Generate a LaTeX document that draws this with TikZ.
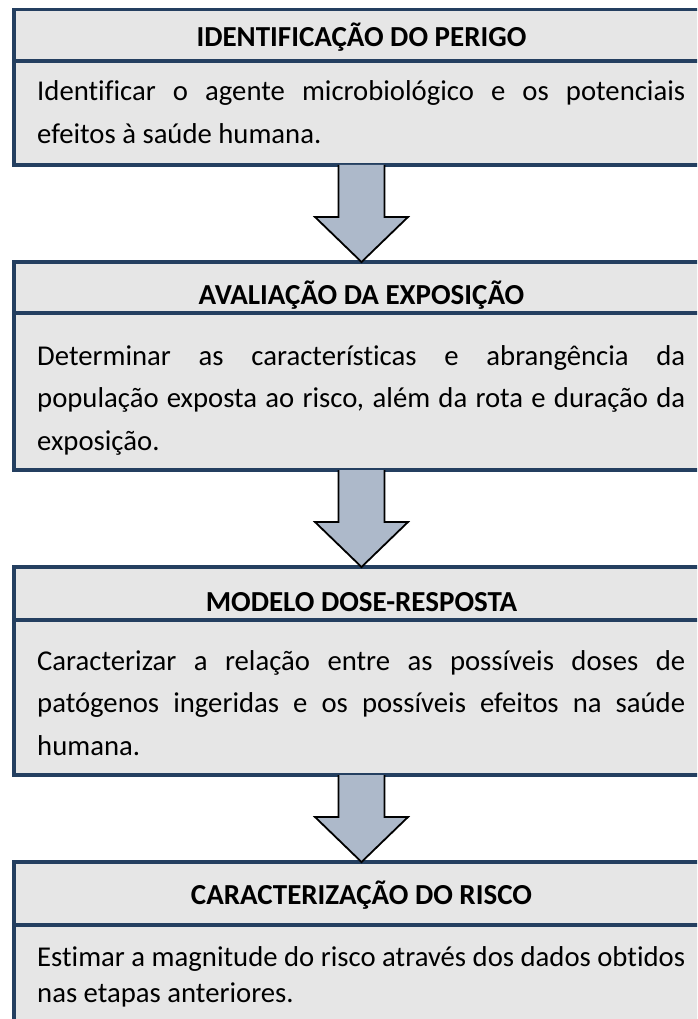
\documentclass[tikz,border=0pt]{standalone}
\usepackage{fontspec}
\setmainfont{Carlito}[Ligatures=NoCommon]
\usetikzlibrary{calc}
\definecolor{bord}{HTML}{243F60}
\definecolor{boxfill}{HTML}{E6E6E6}
\definecolor{arrfill}{HTML}{ADB9CA}
\tikzset{
  panel/.style={draw=bord, line width=3.4pt, fill=boxfill, rectangle, minimum width=695pt, inner sep=0pt, outer sep=0pt, anchor=north west},
  divider/.style={draw=bord, line width=3.4pt},
  head/.style={inner sep=0pt, anchor=base, font=\bfseries\fontsize{29}{34}\selectfont},
  body/.style={inner sep=0pt, anchor=base west, text width=648pt, align=justify, font=\fontsize{28.7}{42.5}\selectfont},
  bodytight/.style={body, font=\fontsize{28.7}{36}\selectfont},
  arrowfill/.style={fill=arrfill},
  arrowline/.style={draw=black, line width=1.8pt, line join=miter}
}
\newcommand{\blockarrow}[2]{%
  \fill[arrowfill] ($(#1)+(-23,0)$) -- ($(#2)+(-23,-45)$) -- ($(#2)+(-46.5,-45)$) -- (#2) -- ($(#2)+(46.5,-45)$) -- ($(#2)+(23,-45)$) -- ($(#1)+(23,0)$) -- cycle;
  \draw[arrowline] ($(#1)+(-23,0)$) -- ($(#2)+(-23,-45)$) -- ($(#2)+(-46.5,-45)$) -- (#2) -- ($(#2)+(46.5,-45)$) -- ($(#2)+(23,-45)$) -- ($(#1)+(23,0)$);
}
\begin{document}
\begin{tikzpicture}[x=1pt,y=-1pt]
\useasboundingbox (0,0) rectangle (697,1019);
\clip (0,0) rectangle (697,1019);
% boxes
\node[panel, minimum height=155.5pt] (b1) at (14,9.5) {};
\node[panel, minimum height=208pt] (b2) at (14,262) {};
\node[panel, minimum height=208pt] (b3) at (14,567) {};
\node[panel, minimum height=240pt] (b4) at (14,862) {};
% dividers
\draw[divider] ($(b1.north west)+(0,51.5)$) -- ($(b1.north east)+(0,51.5)$);
\draw[divider] ($(b2.north west)+(0,51)$) -- ($(b2.north east)+(0,51)$);
\draw[divider] ($(b3.north west)+(0,53)$) -- ($(b3.north east)+(0,53)$);
\draw[divider] ($(b4.north west)+(0,63)$) -- ($(b4.north east)+(0,63)$);
% headers
\node[head] (h1) at (361.5,47) {IDENTIFICAÇÃO DO PERIGO};
\node[head] (h2) at (361.5,304) {AVALIAÇÃO DA EXPOSIÇÃO};
\node[head] (h3) at (361.5,611) {MODELO DOSE-RESPOSTA};
\node[head] (h4) at (361.5,904) {CARACTERIZAÇÃO DO RISCO};
% body texts
\node[body] (t1) at (37,101) {Identificar o agente microbiológico e os potenciais\linebreak efeitos à saúde humana.};
\node[body] (t2) at (37,365) {Determinar as características e abrangência da\linebreak população exposta ao risco, além da rota e duração da\linebreak exposição.};
\node[body] (t3) at (37,670) {Caracterizar a relação entre as possíveis doses de\linebreak patógenos ingeridas e os possíveis efeitos na saúde\linebreak humana.};
\node[bodytight] (t4) at (37,966) {Estimar a magnitude do risco através dos dados obtidos\linebreak nas etapas anteriores.};
% arrows
\blockarrow{b1.south}{b2.north}
\blockarrow{b2.south}{b3.north}
\blockarrow{b3.south}{b4.north}
\end{tikzpicture}
\end{document}
